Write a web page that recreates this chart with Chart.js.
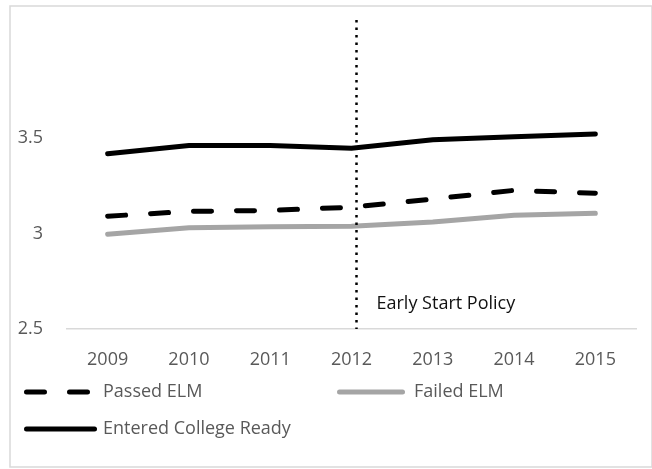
<!DOCTYPE html>
<html>
<head>
<meta charset="utf-8">
<script src="https://cdn.jsdelivr.net/npm/chart.js@4"></script>
<style>
  html, body { margin: 0; padding: 0; background: #fff; }
  #wrap { width: 652px; height: 469px; }
</style>
</head>
<body>
<div id="wrap"><canvas id="grafica" width="652" height="469"></canvas></div>
<script>
// ========== DATOS ==========
const anios = ['2009', '2010', '2011', '2012', '2013', '2014', '2015'];
const passedELM = [3.09, 3.115, 3.12, 3.137, 3.18, 3.225, 3.21];
const failedELM = [2.995, 3.03, 3.035, 3.037, 3.06, 3.095, 3.105];
const collegeReady = [3.416, 3.46, 3.46, 3.445, 3.49, 3.505, 3.52];
const yTicks = [2.5, 3, 3.5];
const policyYear = '2012';
const policyLabel = 'Early Start Policy';

const FONT = '"Open Sans", "DejaVu Sans", sans-serif';
const TEXT_COLOR = '#595959';

// ========== MARCO ==========
const marco = {
  id: 'marco',
  beforeDraw(chart) {
    const ctx = chart.ctx;
    ctx.save();
    ctx.fillStyle = '#fff';
    ctx.fillRect(0, 0, chart.width, chart.height);
    ctx.strokeStyle = '#d9d9d9';
    ctx.lineWidth = 1.5;
    ctx.strokeRect(10, 6, chart.width - 10, chart.height - 8);
    ctx.restore();
  }
};

// ========== LINEA DE POLITICA ==========
const lineaPolitica = {
  id: 'lineaPolitica',
  afterDatasetsDraw(chart) {
    const ctx = chart.ctx;
    const x = chart.scales.x.getPixelForValue(anios.indexOf(policyYear)) + 5;
    const area = chart.chartArea;
    ctx.save();
    ctx.strokeStyle = '#000';
    ctx.lineWidth = 2.5;
    ctx.setLineDash([2.5, 5]);
    ctx.beginPath();
    ctx.moveTo(x, area.top);
    ctx.lineTo(x, area.bottom);
    ctx.stroke();
    ctx.setLineDash([]);
    ctx.fillStyle = '#111';
    ctx.font = '18px ' + FONT;
    ctx.textBaseline = 'middle';
    ctx.fillText(policyLabel, x + 20, area.bottom - 25);
    ctx.restore();
  }
};

// ========== LEYENDA ==========
const leyenda = {
  id: 'leyenda',
  afterDraw(chart) {
    const ctx = chart.ctx;
    const items = [
      { ds: 0, x1: 26.5, x2: 89, tx: 103, y: 392 },
      { ds: 1, x1: 339.5, x2: 402.5, tx: 414, y: 392 },
      { ds: 2, x1: 26.5, x2: 94.5, tx: 103, y: 429 }
    ];
    ctx.save();
    ctx.font = '18px ' + FONT;
    ctx.textBaseline = 'middle';
    items.forEach(it => {
      const ds = chart.data.datasets[it.ds];
      ctx.strokeStyle = ds.borderColor;
      ctx.lineWidth = ds.borderWidth;
      ctx.lineCap = 'round';
      ctx.setLineDash(ds.borderDash || []);
      ctx.beginPath();
      ctx.moveTo(it.x1, it.y);
      ctx.lineTo(it.x2, it.y);
      ctx.stroke();
      ctx.setLineDash([]);
      ctx.fillStyle = TEXT_COLOR;
      ctx.fillText(ds.label, it.tx, it.y);
    });
    ctx.restore();
  }
};

// ========== GRAFICA ==========
const ctx = document.getElementById('grafica');
new Chart(ctx, {
  type: 'line',
  data: {
    labels: anios,
    datasets: [
      {
        label: 'Passed ELM',
        data: passedELM,
        borderColor: '#000',
        borderWidth: 5,
        borderDash: [18, 25],
        borderCapStyle: 'round',
        pointRadius: 0,
        tension: 0
      },
      {
        label: 'Failed ELM',
        data: failedELM,
        borderColor: '#a5a5a5',
        borderWidth: 5,
        borderCapStyle: 'round',
        pointRadius: 0,
        tension: 0
      },
      {
        label: 'Entered College Ready',
        data: collegeReady,
        borderColor: '#000',
        borderWidth: 5,
        borderCapStyle: 'round',
        pointRadius: 0,
        tension: 0
      }
    ]
  },
  options: {
    responsive: false,
    animation: false,
    layout: { padding: { left: 0, top: 20, right: 16, bottom: 95 } },
    plugins: {
      legend: { display: false },
      title: { display: false },
      tooltip: { enabled: false }
    },
    scales: {
      x: {
        offset: true,
        grid: { display: false, drawTicks: false },
        border: { display: true, color: '#d9d9d9', width: 1.5 },
        ticks: {
          color: TEXT_COLOR,
          font: { family: FONT, size: 18 },
          padding: 20,
          maxRotation: 0
        },
        afterFit: s => { s.height = 45; s.paddingLeft = 0; s.paddingRight = 0; }
      },
      y: {
        min: 2.5,
        max: 4.116,
        grid: { display: false, drawTicks: false },
        border: { display: false },
        afterBuildTicks: s => { s.ticks = yTicks.map(v => ({ value: v })); },
        ticks: {
          color: TEXT_COLOR,
          font: { family: FONT, size: 18 },
          padding: 24,
          callback: v => String(v)
        },
        afterFit: s => { s.width = 67; s.paddingTop = 0; s.paddingBottom = 0; }
      }
    }
  },
  plugins: [marco, lineaPolitica, leyenda]
});
</script>
</body>
</html>
